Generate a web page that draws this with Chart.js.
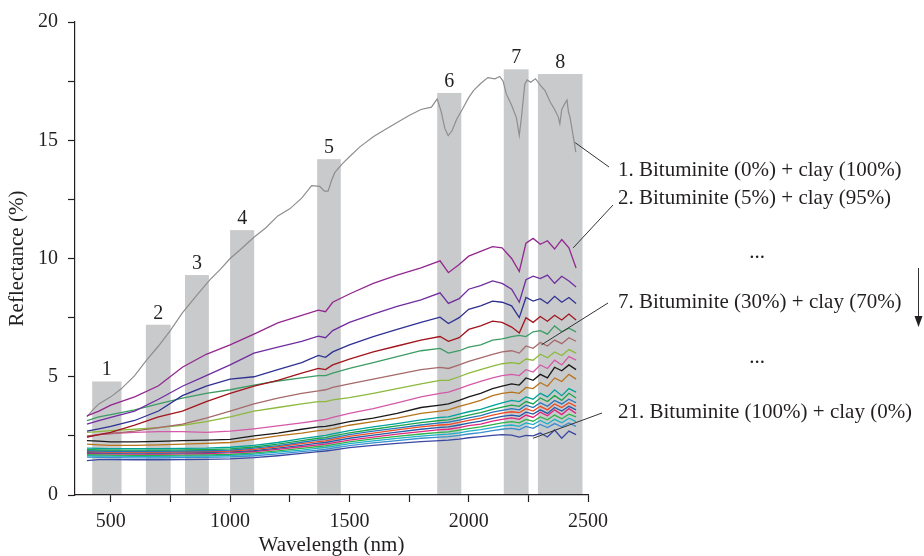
<!DOCTYPE html>
<html>
<head>
<meta charset="utf-8">
<script src="https://cdn.jsdelivr.net/npm/chart.js@4"></script>
<style>
  body { margin: 0; background: #fff; }
  #wrap { width: 924px; height: 556px; }
</style>
</head>
<body>
<div id="wrap"><canvas id="myChart"></canvas></div>
<script>
// wavelength grid (nm) shared by the mixture spectra 2..21
const wavelengths = [400, 450, 500, 600, 700, 800, 900, 1000, 1100, 1200,
    1300, 1370, 1400, 1430, 1500, 1600, 1700, 1800, 1880, 1915,
    1960, 2000, 2050, 2100, 2140, 2180, 2212, 2240, 2270, 2300,
    2330, 2360, 2390, 2420, 2450];

// pure clay spectrum (read on a finer grid)
const clayWave = [400, 425, 450, 500, 545, 600, 650, 700, 750, 800,
    860, 915, 960, 1000, 1040, 1100, 1150, 1200, 1250, 1300,
    1342, 1376, 1395, 1411, 1425, 1439, 1470, 1500, 1544, 1600,
    1650, 1700, 1750, 1800, 1844, 1868, 1885, 1900, 1914, 1930,
    1950, 1970, 2000, 2020, 2050, 2080, 2110, 2130, 2144, 2158,
    2179, 2200, 2212, 2221, 2235, 2245, 2260, 2280, 2298, 2320,
    2340, 2360, 2375, 2382, 2390, 2403, 2412, 2418, 2424, 2436, 2449];
const clay100 = [3.3, 3.6, 3.85, 4.15, 4.5, 5.05, 5.7, 6.3, 6.96, 7.7,
    8.44, 9.1, 9.55, 10.0, 10.35, 10.9, 11.3, 11.8, 12.1, 12.55,
    13.08, 13.05, 12.85, 12.85, 13.3, 13.64, 14.0, 14.3, 14.72, 15.15,
    15.45, 15.75, 16.05, 16.3, 16.4, 16.75, 16.2, 15.5, 15.2, 15.4,
    15.9, 16.25, 16.8, 17.1, 17.4, 17.65, 17.6, 17.7, 17.5, 16.95,
    16.5, 15.96, 15.2, 15.96, 17.37, 17.55, 17.45, 17.6, 17.35, 17.1,
    16.65, 16.3, 16.0, 15.7, 16.3, 16.55, 16.7, 16.2, 16.0, 15.3, 14.5];

const mix2 = [3.35, 3.55, 3.8, 4.15, 4.62, 5.4, 5.95, 6.35, 6.8, 7.28,
    7.6, 7.82, 7.75, 8.15, 8.5, 8.95, 9.3, 9.6, 9.9, 9.4,
    9.75, 10.1, 10.3, 10.5, 10.45, 10.0, 9.45, 10.65, 10.85, 10.6,
    10.75, 10.4, 10.8, 10.45, 9.6];
const mix3 = [3.0, 3.15, 3.28, 3.55, 4.05, 4.6, 5.05, 5.5, 6.0, 6.25,
    6.5, 6.72, 6.65, 6.95, 7.3, 7.65, 7.98, 8.25, 8.55, 8.1,
    8.3, 8.7, 8.85, 9.05, 8.95, 8.7, 8.15, 9.1, 9.25, 9.15,
    9.3, 8.95, 9.25, 9.05, 8.8];
const mix4 = [2.7, 2.8, 2.9, 3.15, 3.55, 4.2, 4.6, 4.9, 5.0, 5.3,
    5.6, 5.9, 5.82, 6.05, 6.35, 6.7, 7.0, 7.3, 7.52, 7.25,
    7.5, 7.85, 8.0, 8.2, 8.15, 8.0, 7.5, 8.35, 8.2, 8.3,
    8.1, 8.4, 8.15, 8.35, 8.1];
const mix5 = [2.45, 2.55, 2.65, 2.95, 3.3, 3.55, 3.95, 4.3, 4.6, 4.85,
    5.15, 5.35, 5.3, 5.5, 5.75, 6.05, 6.3, 6.55, 6.7, 6.5,
    6.65, 7.0, 7.15, 7.35, 7.3, 7.1, 6.85, 7.5, 7.3, 7.55,
    7.35, 7.6, 7.4, 7.65, 7.4];
const mix6 = [3.15, 3.3, 3.4, 3.6, 3.85, 4.1, 4.3, 4.45, 4.65, 4.82,
    4.95, 5.05, 5.05, 5.15, 5.35, 5.6, 5.85, 6.1, 6.2, 6.0,
    6.1, 6.25, 6.35, 6.55, 6.6, 6.7, 6.75, 6.7, 6.9, 6.95,
    6.8, 7.15, 6.9, 7.05, 6.9];
const mix7 = [2.5, 2.55, 2.6, 2.7, 2.85, 3.0, 3.25, 3.55, 3.85, 4.1,
    4.3, 4.4, 4.45, 4.55, 4.7, 4.9, 5.1, 5.3, 5.4, 5.35,
    5.5, 5.65, 5.8, 5.95, 6.05, 6.1, 6.0, 6.3, 6.2, 6.45,
    6.3, 6.55, 6.4, 6.65, 6.5];
const mix8 = [2.65, 2.68, 2.72, 2.78, 2.85, 2.95, 3.1, 3.3, 3.55, 3.7,
    3.85, 3.95, 3.95, 4.02, 4.12, 4.3, 4.5, 4.7, 4.85, 4.85,
    5.0, 5.15, 5.3, 5.45, 5.55, 5.6, 5.55, 5.75, 5.7, 5.95,
    5.8, 6.05, 5.9, 6.15, 6.0];
const mix9 = [2.45, 2.55, 2.6, 2.65, 2.68, 2.68, 2.65, 2.7, 2.8, 2.92,
    3.05, 3.15, 3.2, 3.28, 3.45, 3.65, 3.9, 4.15, 4.3, 4.35,
    4.5, 4.65, 4.8, 4.95, 5.05, 5.1, 5.05, 5.3, 5.2, 5.5,
    5.35, 5.7, 5.5, 5.85, 5.7];
const mix10 = [2.3, 2.28, 2.25, 2.25, 2.27, 2.3, 2.32, 2.35, 2.5, 2.62,
    2.78, 2.88, 2.9, 2.95, 3.1, 3.25, 3.45, 3.7, 3.8, 3.85,
    4.0, 4.15, 4.3, 4.5, 4.6, 4.7, 4.65, 4.95, 4.85, 5.1,
    4.95, 5.4, 5.25, 5.5, 5.3];
const mix11 = [2.15, 2.12, 2.1, 2.1, 2.12, 2.15, 2.18, 2.22, 2.35, 2.5,
    2.62, 2.72, 2.75, 2.8, 2.95, 3.1, 3.25, 3.45, 3.55, 3.6,
    3.75, 3.85, 4.0, 4.2, 4.3, 4.35, 4.3, 4.55, 4.5, 4.75,
    4.6, 4.95, 4.8, 5.1, 4.9];
const mix12 = [1.98, 1.97, 1.96, 1.96, 1.96, 1.97, 1.98, 2.02, 2.1, 2.22,
    2.38, 2.48, 2.52, 2.58, 2.72, 2.88, 3.02, 3.18, 3.28, 3.3,
    3.42, 3.52, 3.62, 3.78, 3.9, 4.0, 3.95, 4.15, 4.05, 4.3,
    4.15, 4.45, 4.2, 4.5, 4.35];
const mix13 = [1.92, 1.91, 1.9, 1.9, 1.9, 1.91, 1.92, 1.95, 2.03, 2.15,
    2.3, 2.4, 2.43, 2.5, 2.63, 2.78, 2.92, 3.06, 3.15, 3.18,
    3.28, 3.38, 3.48, 3.62, 3.72, 3.8, 3.75, 3.95, 3.85, 4.1,
    3.95, 4.2, 4.0, 4.3, 4.1];
const mix14 = [1.87, 1.86, 1.85, 1.85, 1.85, 1.86, 1.87, 1.9, 1.98, 2.09,
    2.23, 2.33, 2.36, 2.42, 2.55, 2.7, 2.83, 2.96, 3.05, 3.08,
    3.17, 3.26, 3.36, 3.5, 3.58, 3.65, 3.6, 3.8, 3.7, 3.9,
    3.75, 4.0, 3.85, 4.05, 3.9];
const mix15 = [1.83, 1.82, 1.81, 1.81, 1.81, 1.82, 1.83, 1.86, 1.93, 2.04,
    2.17, 2.26, 2.29, 2.35, 2.48, 2.62, 2.75, 2.88, 2.96, 2.98,
    3.07, 3.16, 3.25, 3.38, 3.46, 3.52, 3.48, 3.65, 3.55, 3.75,
    3.6, 3.85, 3.7, 3.9, 3.75];
const mix16 = [1.79, 1.78, 1.77, 1.77, 1.77, 1.78, 1.79, 1.82, 1.88, 1.98,
    2.1, 2.19, 2.22, 2.28, 2.4, 2.53, 2.66, 2.78, 2.86, 2.88,
    2.96, 3.04, 3.12, 3.24, 3.32, 3.38, 3.33, 3.5, 3.42, 3.6,
    3.45, 3.7, 3.55, 3.75, 3.6];
const mix17 = [1.76, 1.75, 1.74, 1.73, 1.73, 1.74, 1.75, 1.78, 1.84, 1.93,
    2.04, 2.12, 2.15, 2.2, 2.32, 2.45, 2.57, 2.68, 2.76, 2.78,
    2.85, 2.93, 3.0, 3.12, 3.2, 3.26, 3.2, 3.38, 3.28, 3.5,
    3.35, 3.6, 3.4, 3.65, 3.45];
const mix18 = [1.71, 1.7, 1.69, 1.68, 1.68, 1.69, 1.7, 1.72, 1.78, 1.87,
    1.97, 2.05, 2.08, 2.13, 2.25, 2.37, 2.48, 2.58, 2.65, 2.67,
    2.74, 2.81, 2.88, 2.98, 3.05, 3.1, 3.05, 3.2, 3.12, 3.3,
    3.18, 3.38, 3.22, 3.42, 3.3];
const mix19 = [1.66, 1.65, 1.64, 1.63, 1.63, 1.64, 1.65, 1.67, 1.73, 1.81,
    1.9, 1.98, 2.01, 2.06, 2.17, 2.29, 2.39, 2.49, 2.55, 2.57,
    2.63, 2.7, 2.76, 2.85, 2.92, 2.96, 2.9, 3.05, 2.98, 3.15,
    3.0, 3.2, 3.05, 3.25, 3.1];
const mix20 = [1.6, 1.59, 1.58, 1.57, 1.57, 1.58, 1.59, 1.61, 1.66, 1.74,
    1.83, 1.9, 1.93, 1.98, 2.09, 2.2, 2.3, 2.4, 2.45, 2.47,
    2.52, 2.58, 2.64, 2.72, 2.78, 2.82, 2.76, 2.9, 2.82, 2.98,
    2.85, 3.02, 2.88, 3.05, 2.9];
const mix21 = [1.45, 1.5, 1.5, 1.49, 1.49, 1.5, 1.51, 1.53, 1.58, 1.66,
    1.76, 1.83, 1.86, 1.9, 2.0, 2.1, 2.18, 2.26, 2.3, 2.32,
    2.36, 2.42, 2.47, 2.52, 2.55, 2.53, 2.45, 2.52, 2.5, 2.62,
    2.45, 2.75, 2.4, 2.7, 2.55];

const mixSeries = [mix2, mix3, mix4, mix5, mix6, mix7, mix8, mix9, mix10, mix11,
    mix12, mix13, mix14, mix15, mix16, mix17, mix18, mix19, mix20, mix21];
const mixColors = ['#93278F', '#6F2DA0', '#2E3192', '#A1141C', '#3D9C64',
    '#A66A6A', '#8DB93C', '#D559A9', '#1A1A1A', '#B8741A',
    '#00A39A', '#1AA54B', '#2576BA', '#EF4A24', '#255BA6',
    '#E0247F', '#2DB34A', '#1EB0C6', '#3B8FD0', '#3A48A2'];

// axis ticks
const xTickValues = [500, 750, 1000, 1250, 1500, 1750, 2000, 2250, 2500];

// absorption bands (grey boxes)
const bandStart = [422, 647, 811, 1000, 1365, 1868, 2147, 2290];
const bandEnd = [545, 751, 911, 1101, 1464, 1969, 2251, 2477];
const bandTop = [4.8, 7.2, 9.3, 11.2, 14.2, 17.0, 18.0, 17.8];
const bandLabels = ['1', '2', '3', '4', '5', '6', '7', '8'];

// callouts: text and the point on the curve each leader starts from
const noteTexts = ['1. Bituminite (0%) + clay (100%)', '2. Bituminite (5%) + clay (95%)',
    '7. Bituminite (30%) + clay (70%)', '21. Bituminite (100%) + clay (0%)'];
const noteWave = [2446, 2438, 2305, 2270];
const noteValue = [14.9, 10.45, 6.35, 2.4];

const serif = '"Liberation Serif", "DejaVu Serif", serif';
const ink = '#231F20';

function toPoints(xs, ys) {
    return xs.map((x, i) => ({ x: x, y: ys[i] }));
}

const datasets = [];
mixSeries.forEach((vals, i) => {
    datasets.push({
        label: 'Mix ' + (i + 2),
        data: toPoints(wavelengths, vals),
        borderColor: mixColors[i],
        borderWidth: 1.3,
        pointRadius: 0,
        tension: 0,
        fill: false
    });
});
datasets.push({
    label: 'Clay 100%',
    data: toPoints(clayWave, clay100),
    borderColor: '#8E8E8E',
    borderWidth: 1.2,
    pointRadius: 0,
    tension: 0,
    fill: false
});

const bandsPlugin = {
    id: 'bands',
    beforeDatasetsDraw(chart) {
        const { ctx, scales: { x, y } } = chart;
        ctx.save();
        ctx.font = '20px ' + serif;
        ctx.textAlign = 'center';
        ctx.textBaseline = 'alphabetic';
        for (let i = 0; i < bandStart.length; i++) {
            const left = x.getPixelForValue(bandStart[i]);
            const right = x.getPixelForValue(bandEnd[i]);
            const top = y.getPixelForValue(bandTop[i]);
            const bottom = y.getPixelForValue(0) - 1;
            ctx.fillStyle = '#C9CACC';
            ctx.fillRect(left, top, right - left, bottom - top);
            ctx.fillStyle = ink;
            ctx.fillText(bandLabels[i], (left + right) / 2, top - 6);
        }
        ctx.restore();
    }
};

const notesPlugin = {
    id: 'notes',
    afterDatasetsDraw(chart) {
        const { ctx, scales: { x, y } } = chart;
        const textX = 618;
        const textY = [170, 198, 302, 412];
        const leaderEnd = [[609, 167], [613, 205], [608, 303], [602, 413]];
        ctx.save();
        ctx.strokeStyle = '#333';
        ctx.lineWidth = 1;
        for (let i = 0; i < noteTexts.length; i++) {
            ctx.beginPath();
            ctx.moveTo(x.getPixelForValue(noteWave[i]), y.getPixelForValue(noteValue[i]));
            ctx.lineTo(leaderEnd[i][0], leaderEnd[i][1]);
            ctx.stroke();
        }
        ctx.fillStyle = ink;
        ctx.font = '21px ' + serif;
        ctx.textAlign = 'left';
        ctx.textBaseline = 'middle';
        noteTexts.forEach((t, i) => ctx.fillText(t, textX, textY[i]));
        ctx.textAlign = 'center';
        ctx.fillText('...', 757, 252);
        ctx.fillText('...', 757, 357);
        // arrow: order of the mixtures
        ctx.beginPath();
        ctx.moveTo(918.5, 268);
        ctx.lineTo(918.5, 318);
        ctx.stroke();
        ctx.beginPath();
        ctx.moveTo(914.5, 316);
        ctx.lineTo(922.5, 316);
        ctx.lineTo(918.5, 327);
        ctx.closePath();
        ctx.fill();
        ctx.restore();
    }
};

const config = {
    type: 'line',
    data: { datasets: datasets },
    options: {
        responsive: true,
        maintainAspectRatio: false,
        animation: false,
        layout: { padding: { left: 0, right: 336, top: 21, bottom: 0 } },
        plugins: {
            legend: { display: false },
            tooltip: { enabled: false }
        },
        scales: {
            x: {
                type: 'linear',
                min: 350,
                max: 2500,
                afterFit: function(scale) { scale.height = 61; },
                afterBuildTicks: function(scale) {
                    scale.ticks = xTickValues.map(v => ({ value: v }));
                },
                ticks: {
                    autoSkip: false,
                    maxRotation: 0,
                    padding: 8,
                    color: ink,
                    font: { family: serif, size: 20 },
                    callback: v => (v % 500 === 0 ? v : '')
                },
                grid: {
                    drawOnChartArea: false,
                    drawTicks: true,
                    tickLength: 7,
                    tickColor: ink,
                    tickWidth: 1.2
                },
                border: { display: true, color: ink, width: 1.2 },
                title: {
                    display: true,
                    text: 'Wavelength (nm)',
                    color: ink,
                    padding: 0,
                    font: { family: serif, size: 21, lineHeight: 1 }
                }
            },
            y: {
                min: 0,
                max: 20,
                afterFit: function(scale) { scale.width = 75; },
                ticks: {
                    stepSize: 2.5,
                    padding: 10,
                    color: ink,
                    font: { family: serif, size: 20 },
                    callback: v => (v % 5 === 0 ? v : '')
                },
                grid: {
                    drawOnChartArea: false,
                    drawTicks: true,
                    tickLength: 7,
                    tickColor: ink,
                    tickWidth: 1.2
                },
                border: { display: true, color: ink, width: 1.2 },
                title: {
                    display: true,
                    text: 'Reflectance (%)',
                    color: ink,
                    padding: { top: 7, bottom: 0 },
                    font: { family: serif, size: 21, lineHeight: 1 }
                }
            }
        }
    },
    plugins: [bandsPlugin, notesPlugin]
};

const myChart = new Chart(document.getElementById('myChart'), config);
</script>
</body>
</html>
